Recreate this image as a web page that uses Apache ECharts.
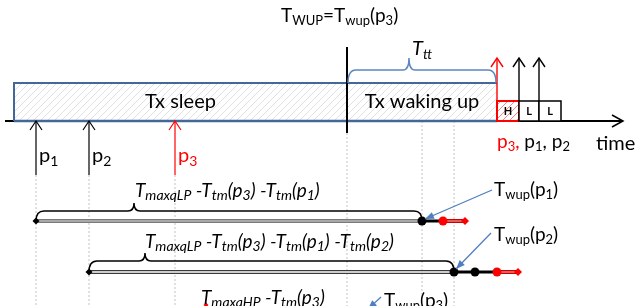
<!DOCTYPE html>
<html>
<head>
<meta charset="utf-8">
<script src="https://cdn.jsdelivr.net/npm/echarts@6/dist/echarts.min.js"></script>
<style>
html, body { margin: 0; padding: 0; background: #fff; }
#chart { width: 637px; height: 306px; }
</style>
</head>
<body>
<div id="chart"></div>
<script>
// time marks on the x axis
var sleepSpan = [14, 347];
var wakeSpan = [347, 497];
var slotEdges = [497, 519, 539, 561];
var slotLabels = ['H', 'L', 'L'];
var packetNames = ['1', '2', '3'];
var arrivals = [36, 89, 175];
var txTimes = [497, 519, 539];
var axisEnd = 623;
// queue rows (p1, p2)
var rowStart = [36, 89];
var rowWup = [422, 454];
var rowBlackDots = [[422], [454, 475]];
var rowRedStart = [443, 497];
var rowRedEnd = [465, 518];
var rowBraceTip = [134, 145];
var rowLabels = [
    '{i|T}{is|maxqLP}{i| -T}{is|tm}{i|(p}{is|3}{i|) -T}{is|tm}{i|(p}{is|1}{i|)}',
    '{i|T}{is|maxqLP}{i| -T}{is|tm}{i|(p}{is|3}{i|) -T}{is|tm}{i|(p}{is|1}{i|) -T}{is|tm}{i|(p}{is|2}{i|)}',
    '{i|T}{is|maxqHP}{i| -T}{is|tm}{i|(p}{is|3}{i|)}'
];
var wupLabels = [
    '{n|T}{s|wup}{n|(p}{s|1}{n|)}',
    '{n|T}{s|wup}{n|(p}{s|2}{n|)}',
    '{n|T}{s|wup}{n|(p}{s|3}{n|)}'
];
var titleText = '{n|T}{s|WUP}{n|=T}{s|wup}{n|(p}{s|3}{n|)}';

var FONT = 'Lato, "Open Sans", sans-serif';
var BLUE = '#44679a', ARROWBLUE = '#4f7fc0', RED = '#ff0000';

function hatch(color) {
    var cv = document.createElement('canvas');
    cv.width = cv.height = 7;
    var g = cv.getContext('2d');
    g.fillStyle = '#fff';
    g.fillRect(0, 0, 7, 7);
    g.strokeStyle = color;
    g.lineWidth = 1;
    g.beginPath();
    g.moveTo(0, 7); g.lineTo(7, 0);
    g.moveTo(-1, 1); g.lineTo(1, -1);
    g.moveTo(6, 8); g.lineTo(8, 6);
    g.stroke();
    return { type: 'pattern', image: cv, repeat: 'repeat' };
}

function rich(size, sub) {
    function st(fs, lh, ital, col, bottom) {
        var o = { fontSize: fs, lineHeight: lh, fontFamily: FONT, fill: col };
        if (ital) o.fontStyle = 'italic';
        if (bottom) o.verticalAlign = 'bottom';
        return o;
    }
    return {
        n: st(size, size + 4, false, '#000'),
        s: st(sub, sub, false, '#000', true),
        i: st(size, size + 4, true, '#000'),
        is: st(sub, sub, true, '#000', true),
        r: st(size, size + 4, false, RED),
        rs: st(sub, sub, false, RED, true)
    };
}

function renderItem(params, api) {
    var c = [];
    function P(t, y) { return api.coord([t, y]); }
    function line(t0, y0, t1, y1, color, w, dash) {
        var a = P(t0, y0), b = P(t1, y1);
        c.push({ type: 'line', shape: { x1: a[0], y1: a[1], x2: b[0], y2: b[1] },
            style: { stroke: color, lineWidth: w, lineDash: dash || null } });
    }
    function upArrow(t, yFrom, yTo, color, w) {
        line(t, yFrom, t, yTo, color, w);
        var a = P(t - 6, yTo + 9), b = P(t, yTo), d = P(t + 6, yTo + 9);
        c.push({ type: 'polyline', shape: { points: [a, b, d] }, style: { stroke: color, lineWidth: w, fill: null } });
    }
    function rect(t0, y0, t1, y1, fill, stroke, w) {
        var a = P(t0, y0), b = P(t1, y1);
        c.push({ type: 'rect', shape: { x: a[0], y: a[1], width: b[0] - a[0], height: b[1] - a[1] },
            style: { fill: fill, stroke: stroke || null, lineWidth: w || 0 } });
    }
    function text(t, y, str, size, sub, align, extra) {
        var p = P(t, y);
        var style = { text: str, rich: rich(size, sub), align: align || 'left', verticalAlign: 'middle',
            fontFamily: FONT, fontSize: size, fill: '#000' };
        for (var k in extra) style[k] = extra[k];
        c.push({ type: 'text', x: p[0], y: p[1], style: style });
    }
    function brace(t0, t1, tm, yEnd, yLine, yTip, color) {
        var a = P(t0, yEnd), b = P(t1, yLine), m = P(tm, yTip);
        var x0 = a[0], x1 = b[0], xm = m[0], ye = a[1], yl = b[1], yt = m[1], r = 8;
        var d = 'M' + x0 + ',' + ye + ' Q' + x0 + ',' + yl + ' ' + (x0 + r) + ',' + yl +
            ' L' + (xm - 6) + ',' + yl + ' Q' + xm + ',' + yl + ' ' + xm + ',' + yt +
            ' Q' + xm + ',' + yl + ' ' + (xm + 6) + ',' + yl +
            ' L' + (x1 - r) + ',' + yl + ' Q' + x1 + ',' + yl + ' ' + x1 + ',' + ye;
        c.push({ type: 'path', shape: { pathData: d }, style: { stroke: color, lineWidth: 1.5, fill: null } });
    }
    function dot(t, y, color, r) {
        var p = P(t, y);
        c.push({ type: 'circle', shape: { cx: p[0], cy: p[1], r: r }, style: { fill: color } });
    }
    function diamond(t, y, color, s) {
        var p = P(t, y);
        c.push({ type: 'polygon', shape: { points: [[p[0] - s, p[1]], [p[0], p[1] - s], [p[0] + s, p[1]], [p[0], p[1] + s]] },
            style: { fill: color } });
    }
    function pointer(t0, y0, t1, y1) {
        line(t0, y0, t1, y1, ARROWBLUE, 1.3);
        var a = P(t0, y0), b = P(t1, y1);
        var ang = Math.atan2(b[1] - a[1], b[0] - a[0]), L = 9, W = 3.5;
        var bx = b[0] - L * Math.cos(ang), by = b[1] - L * Math.sin(ang);
        c.push({ type: 'polygon', shape: { points: [b,
            [bx + W * Math.sin(ang), by - W * Math.cos(ang)],
            [bx - W * Math.sin(ang), by + W * Math.cos(ang)]] }, style: { fill: ARROWBLUE } });
    }

    // dotted guide lines
    arrivals.forEach(function (t) { line(t, 175, t, 306, '#c4c4c4', 1, [2, 2]); });
    line(wakeSpan[0], 133, wakeSpan[0], 306, '#c4c4c4', 1, [2, 2]);
    rowWup.forEach(function (t) { line(t, 121, t, 306, '#c4c4c4', 1, [2, 2]); });

    // state boxes
    var grey = hatch('#e0e0e0');
    rect(sleepSpan[0], 83, wakeSpan[1], 121, grey);
    line(5, 121, axisEnd, 121, '#000', 2);
    var h = P(axisEnd, 121);
    c.push({ type: 'polyline', shape: { points: [[h[0] - 11, h[1] - 6], h, [h[0] - 11, h[1] + 6]] },
        style: { stroke: '#000', lineWidth: 1.5, fill: null } });
    line(sleepSpan[0], 121, wakeSpan[1], 121, BLUE, 2.5);
    line(sleepSpan[0], 83, wakeSpan[1], 83, BLUE, 2);
    line(sleepSpan[0], 82, sleepSpan[0], 121, BLUE, 2);
    line(wakeSpan[0], 47, wakeSpan[0], 133, '#000', 2);

    // frame slots
    var redHatch = hatch('#ff8080');
    slotLabels.forEach(function (lab, i) {
        var hi = lab === 'H';
        rect(slotEdges[i], 101, slotEdges[i + 1], 121, hi ? redHatch : '#fff', hi ? RED : '#000', hi ? 2 : 1.5);
        text((slotEdges[i] + slotEdges[i + 1]) / 2, 111.5, lab, 11, 8, 'center', { fontWeight: 'bold' });
    });
    txTimes.forEach(function (t, i) {
        upArrow(t, i === 0 ? 121 : 101, 58, i === 0 ? RED : '#000', 1.4);
    });

    // arrivals
    arrivals.forEach(function (t, i) {
        var red = i === 2;
        upArrow(t, 175, 121, red ? RED : '#000', 1.2);
        text(t + 3, 156, red ? '{r|p}{rs|' + packetNames[i] + '}' : '{n|p}{s|' + packetNames[i] + '}', 20, 14);
    });

    // wake-up brace
    brace(wakeSpan[0] + 1, wakeSpan[1] - 1, 409, 83, 70, 58, '#5b86c0');
    text(412, 49, '{i|T}{is|tt}', 20, 14);

    // queue rows
    var ROW_Y = [221, 272], BR_Y = [211, 261], TIP_Y = [203, 253];
    rowStart.forEach(function (t, i) {
        var y = ROW_Y[i];
        brace(t, rowWup[i], rowBraceTip[i], y, BR_Y[i], TIP_Y[i], '#000');
        line(t, y, rowWup[i], y, i === 0 ? '#7a7a7a' : '#3a3a3a', 4);
        line(t, y, rowWup[i], y, i === 0 ? '#b8b8b8' : '#fff', 1.3);
        line(rowWup[i], y, rowRedStart[i], y, '#000', 3);
        line(rowRedStart[i], y, rowRedEnd[i], y, '#d00000', 4);
        line(rowRedStart[i], y, rowRedEnd[i], y, '#f09090', 1.3);
        diamond(t, y, '#000', 3.5);
        rowBlackDots[i].forEach(function (d) { dot(d, y, '#000', 4.5); });
        dot(rowRedStart[i], y, RED, 4.5);
        diamond(rowRedEnd[i], y, RED, 4);
    });
    pointer(492, 190, 425, 219);
    pointer(491, 233, 456, 269);
    pointer(381, 297, 368, 309);
    diamond(206, 305, RED, 2.5);

    // labels
    text(281, 16, titleText, 19, 13);
    text((sleepSpan[0] + sleepSpan[1]) / 2, 102, 'Tx sleep', 20, 14, 'center');
    text((wakeSpan[0] + wakeSpan[1]) / 2, 102, 'Tx waking up', 20, 14, 'center');
    text(497, 142, '{r|p}{rs|3}{r|, }{n|p}{s|1}{n|, p}{s|2}', 19, 13);
    text(596, 144, 'time', 20, 14);
    text(135, 191, rowLabels[0], 19, 14);
    text(145, 242, rowLabels[1], 19, 14);
    text(201, 298, rowLabels[2], 19, 14);
    text(494, 190, wupLabels[0], 19, 13);
    text(494, 235, wupLabels[1], 19, 13);
    text(384, 301, wupLabels[2], 19, 13);

    return { type: 'group', children: c };
}

var chart = echarts.init(document.getElementById('chart'));
chart.setOption({
    animation: false,
    grid: { left: 0, right: 0, top: 0, bottom: 0 },
    xAxis: { type: 'value', min: 0, max: 637, show: false },
    yAxis: { type: 'value', min: 0, max: 306, inverse: true, show: false },
    series: [{
        type: 'custom',
        renderItem: renderItem,
        data: [0],
        silent: true
    }]
});
</script>
</body>
</html>
